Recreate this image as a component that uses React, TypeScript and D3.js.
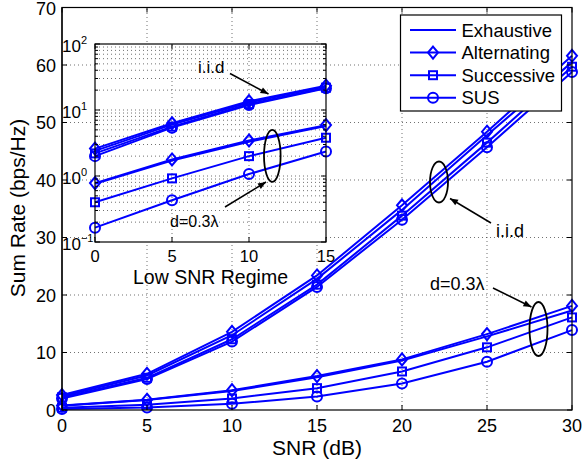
import React from "react";
import * as d3 from "d3";

const snr = [0, 5, 10, 15, 20, 25, 30];
const exhIid = [2.4, 6.0, 13.0, 22.8, 34.8, 47.8, 60.5];
const altIid = [2.6, 6.3, 13.6, 23.4, 35.6, 48.4, 61.6];
const sucIid = [2.2, 5.6, 12.3, 21.8, 33.8, 46.5, 59.7];
const susIid = [2.0, 5.4, 11.9, 21.4, 33.1, 45.7, 58.8];
const exhCor = [0.76, 1.72, 3.3, 5.7, 8.6, 12.8, 17.3];
const altCor = [0.78, 1.78, 3.45, 5.9, 8.8, 13.2, 18.1];
const sucCor = [0.4, 0.92, 2.0, 3.8, 6.7, 10.9, 16.1];
const susCor = [0.165, 0.43, 1.07, 2.35, 4.6, 8.4, 13.9];

const xTicks = [0, 5, 10, 15, 20, 25, 30];
const yTicks = [0, 10, 20, 30, 40, 50, 60, 70];
const insetSnr = [0, 5, 10, 15];
const insetXTicks = [0, 5, 10, 15];
const insetYTicks = [0.1, 1, 10, 100];
const insetYExp = ["\u22121", "0", "1", "2"];
const legendNames = ["Exhaustive", "Alternating", "Successive", "SUS"];
const markerTypes = ["none", "diamond", "square", "circle"];

const BLUE = "#0000ff";
const FONT = "'Liberation Sans', Arial, Helvetica, sans-serif";

function Marker({ type, x, y }: { type: string; x: number; y: number }) {
  if (type === "diamond")
    return <path d={`M${x},${y - 6}L${x + 5},${y}L${x},${y + 6}L${x - 5},${y}Z`} fill="none" stroke={BLUE} strokeWidth={2} />;
  if (type === "square")
    return <rect x={x - 4} y={y - 4} width={8} height={8} fill="none" stroke={BLUE} strokeWidth={2} />;
  if (type === "circle") return <circle cx={x} cy={y} r={5} fill="none" stroke={BLUE} strokeWidth={2} />;
  return null;
}

export default function App() {
  const W = 582, H = 466;
  const x = d3.scaleLinear().domain([0, 30]).range([62, 572]);
  const y = d3.scaleLinear().domain([0, 70]).range([410, 7.5]);
  const ix = d3.scaleLinear().domain([0, 15]).range([95, 326]);
  const iy = d3.scaleLog().domain([0.1, 100]).range([242, 44]);

  const mainSeries = [
    { type: "none", iid: exhIid, cor: exhCor },
    { type: "diamond", iid: altIid, cor: altCor },
    { type: "square", iid: sucIid, cor: sucCor },
    { type: "circle", iid: susIid, cor: susCor },
  ];

  const lineMain = d3.line<number>().x((_, i) => x(snr[i])).y((d) => y(d));
  const lineInset = d3.line<number>().x((_, i) => ix(insetSnr[i])).y((d) => iy(d));

  const minorLog: number[] = [];
  for (let e = -1; e < 2; e++) for (let m = 2; m <= 9; m++) minorLog.push(m * Math.pow(10, e));

  const grid = { stroke: "#333", strokeWidth: 0.7, strokeDasharray: "1 3" };

  return (
    <svg width={W} height={H} style={{ display: "block", position: "absolute", left: 0, top: 0 }} fontFamily={FONT}>
      <defs>
        <marker id="ah" viewBox="0 0 10 10" refX="10" refY="5" markerWidth="10" markerHeight="8" markerUnits="userSpaceOnUse" orient="auto">
          <path d="M0,1L10,5L0,9Z" fill="#000" />
        </marker>
      </defs>
      <rect width={W} height={H} fill="#fff" />
      {/* main grid */}
      {xTicks.slice(1, -1).map((t) => (
        <line key={"gx" + t} x1={x(t)} x2={x(t)} y1={y(0)} y2={y(70)} {...grid} />
      ))}
      {yTicks.slice(1, -1).map((t) => (
        <line key={"gy" + t} x1={x(0)} x2={x(30)} y1={y(t)} y2={y(t)} {...grid} />
      ))}
      {/* main lines */}
      {mainSeries.map((s, k) => (
        <g key={"ms" + k}>
          <path d={lineMain(s.iid) || ""} fill="none" stroke={BLUE} strokeWidth={2} />
          <path d={lineMain(s.cor) || ""} fill="none" stroke={BLUE} strokeWidth={2} />
          {s.iid.map((v, i) => <Marker key={"a" + i} type={s.type} x={x(snr[i])} y={y(v)} />)}
          {s.cor.map((v, i) => <Marker key={"b" + i} type={s.type} x={x(snr[i])} y={y(v)} />)}
        </g>
      ))}
      {/* main box and ticks */}
      <rect x={62} y={7.5} width={510} height={402.5} fill="none" stroke="#000" strokeWidth={1.2} />
      {xTicks.map((t) => (
        <g key={"tx" + t}>
          <line x1={x(t)} x2={x(t)} y1={410} y2={405} stroke="#000" />
          <line x1={x(t)} x2={x(t)} y1={7.5} y2={12.5} stroke="#000" />
          <text x={x(t)} y={432} fontSize={18} textAnchor="middle">{t}</text>
        </g>
      ))}
      {yTicks.map((t) => (
        <g key={"ty" + t}>
          <line x1={62} x2={67} y1={y(t)} y2={y(t)} stroke="#000" />
          <line x1={572} x2={567} y1={y(t)} y2={y(t)} stroke="#000" />
          <text x={56} y={Math.max(y(t) + 6.5, 15)} fontSize={18} textAnchor="end">{t}</text>
        </g>
      ))}
      <text x={317} y={455} fontSize={21} textAnchor="middle">SNR (dB)</text>
      <text transform="translate(25,208) rotate(-90)" fontSize={21} textAnchor="middle">Sum Rate (bps/Hz)</text>

      {/* main annotations */}
      <ellipse cx={439} cy={182} rx={9} ry={20.5} fill="none" stroke="#000" strokeWidth={1.8} />
      <line x1={491} x2={450} y1={223} y2={198.5} stroke="#000" strokeWidth={1.5} markerEnd="url(#ah)" />
      <text x={496} y={236.5} fontSize={18}>i.i.d</text>
      <ellipse cx={538.5} cy={329} rx={9} ry={27} fill="none" stroke="#000" strokeWidth={1.8} />
      <line x1={493} x2={531.5} y1={288} y2={307} stroke="#000" strokeWidth={1.5} markerEnd="url(#ah)" />
      <text x={430} y={290} fontSize={18}>d=0.3λ</text>

      {/* inset */}
      <rect x={95} y={44} width={231} height={198} fill="#fff" />
      {insetXTicks.slice(1, -1).map((t) => (
        <line key={"igx" + t} x1={ix(t)} x2={ix(t)} y1={242} y2={44} {...grid} />
      ))}
      {[...minorLog, 1, 10].map((t, i) => (
        <line key={"igy" + i} x1={95} x2={326} y1={iy(t)} y2={iy(t)} {...grid} />
      ))}
      {mainSeries.map((s, k) => (
        <g key={"is" + k}>
          <path d={lineInset(s.iid.slice(0, 4)) || ""} fill="none" stroke={BLUE} strokeWidth={2} />
          <path d={lineInset(s.cor.slice(0, 4)) || ""} fill="none" stroke={BLUE} strokeWidth={2} />
          {s.iid.slice(0, 4).map((v, i) => <Marker key={"a" + i} type={s.type} x={ix(insetSnr[i])} y={iy(v)} />)}
          {s.cor.slice(0, 4).map((v, i) => <Marker key={"b" + i} type={s.type} x={ix(insetSnr[i])} y={iy(v)} />)}
        </g>
      ))}
      <rect x={95} y={44} width={231} height={198} fill="none" stroke="#000" strokeWidth={1.2} />
      {insetXTicks.map((t) => (
        <g key={"itx" + t}>
          <line x1={ix(t)} x2={ix(t)} y1={242} y2={237} stroke="#000" />
          <line x1={ix(t)} x2={ix(t)} y1={44} y2={49} stroke="#000" />
          <text x={ix(t)} y={262} fontSize={16.5} textAnchor="middle">{t}</text>
        </g>
      ))}
      {minorLog.map((t, i) => (
        <g key={"imt" + i}>
          <line x1={95} x2={98} y1={iy(t)} y2={iy(t)} stroke="#000" />
          <line x1={326} x2={323} y1={iy(t)} y2={iy(t)} stroke="#000" />
        </g>
      ))}
      {insetYTicks.map((t, i) => (
        <g key={"ity" + i}>
          <line x1={95} x2={100} y1={iy(t)} y2={iy(t)} stroke="#000" />
          <line x1={326} x2={321} y1={iy(t)} y2={iy(t)} stroke="#000" />
          <text x={62} y={iy(t) + 8} fontSize={17}>
            10<tspan fontSize={11} dy={-8}>{insetYExp[i]}</tspan>
          </text>
        </g>
      ))}
      <text x={210.5} y={284} fontSize={19.5} textAnchor="middle">Low SNR Regime</text>
      <text x={198} y={73} fontSize={17}>i.i.d</text>
      <line x1={230} x2={268.5} y1={73.5} y2={94} stroke="#000" strokeWidth={1.5} markerEnd="url(#ah)" />
      <ellipse cx={272.3} cy={155.8} rx={8.3} ry={26} fill="none" stroke="#000" strokeWidth={1.8} />
      <line x1={225} x2={266} y1={207} y2={182} stroke="#000" strokeWidth={1.5} markerEnd="url(#ah)" />
      <text x={170} y={226.5} fontSize={16}>d=0.3λ</text>

      {/* main axis line redrawn over inset labels */}
      <line x1={62} x2={62} y1={7.5} y2={410} stroke="#000" strokeWidth={1.2} />

      {/* legend */}
      <rect x={400.5} y={15} width={161} height={96} fill="#fff" stroke="#000" strokeWidth={1.2} />
      {legendNames.map((n, i) => {
        const ly = 30 + i * 22.6;
        return (
          <g key={"lg" + i}>
            <line x1={410} x2={456} y1={ly} y2={ly} stroke={BLUE} strokeWidth={2} />
            <Marker type={markerTypes[i]} x={433} y={ly} />
            <text x={461.5} y={ly + 6.5} fontSize={18.5}>{n}</text>
          </g>
        );
      })}
    </svg>
  );
}
